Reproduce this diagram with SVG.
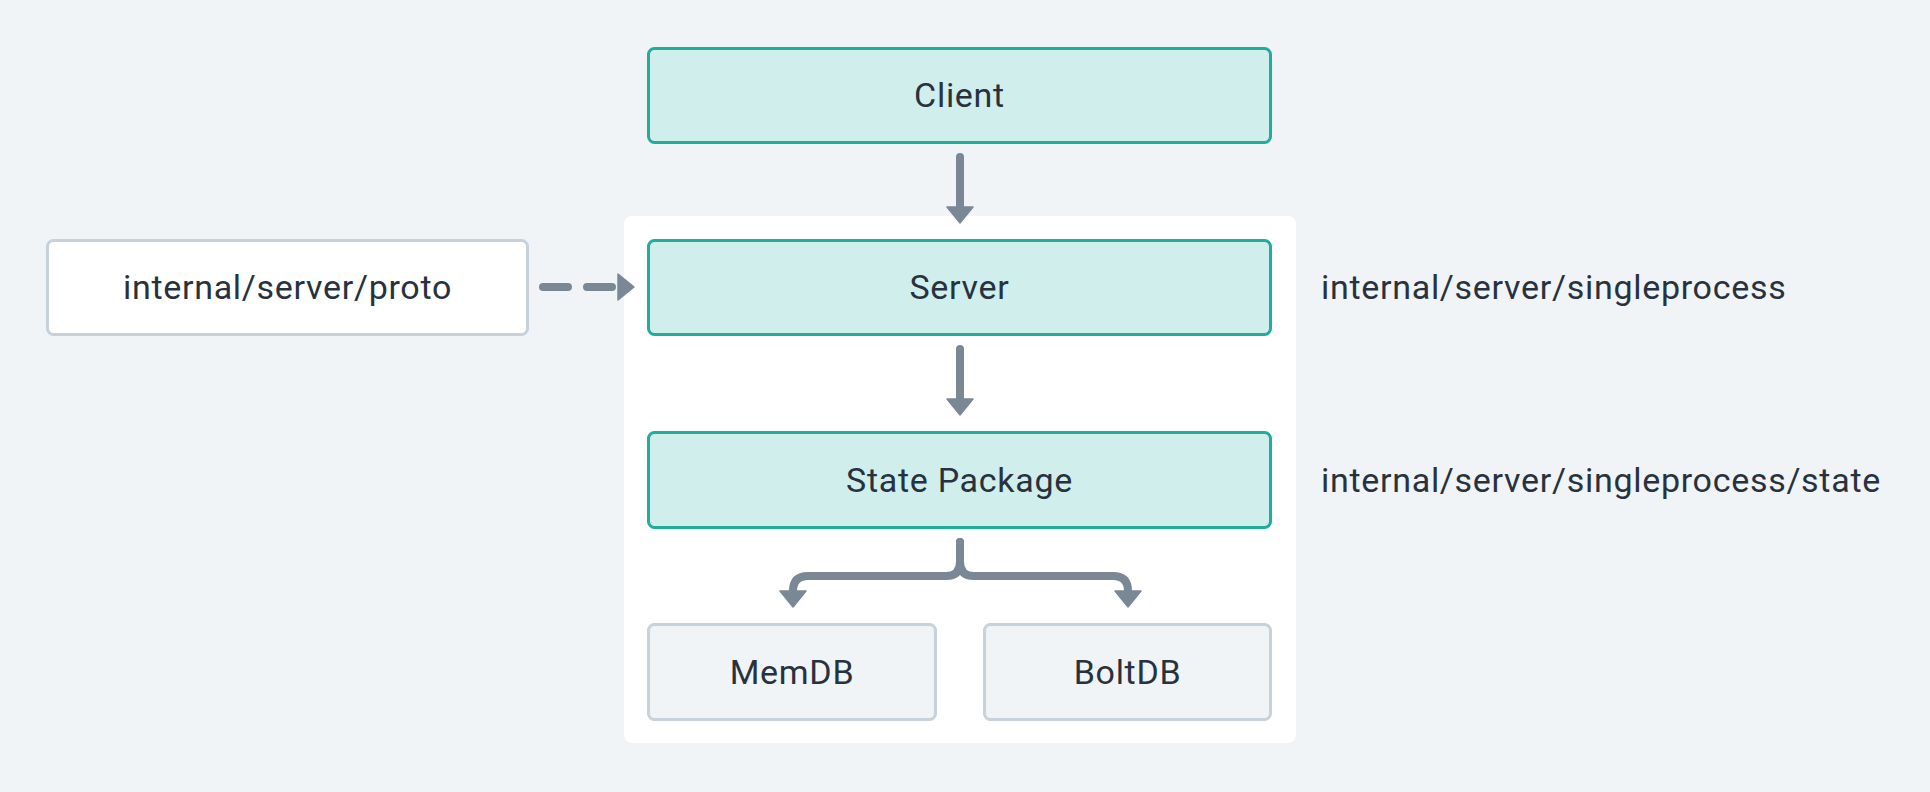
<svg xmlns="http://www.w3.org/2000/svg" width="1930" height="792" viewBox="0 0 1930 792">
<defs>
<style>
.bg{fill:#f0f4f7}
.container{fill:#ffffff}
.teal{fill:#d0eeec;stroke:#1fae9b;stroke-width:3}
.gray{fill:#f0f4f7;stroke:#c6d1da;stroke-width:3}
.plain{fill:#ffffff;stroke:#c6d1da;stroke-width:3}
.lbl{font-family:Roboto,"Liberation Sans",sans-serif;font-size:34px;letter-spacing:0.7px;fill:#27323e}
.mid{text-anchor:middle}
.conn{fill:none;stroke:#7a8896;stroke-width:8;stroke-linecap:round;stroke-linejoin:round}
</style>
<marker id="ah" viewBox="0 0 18 28" markerUnits="userSpaceOnUse" markerWidth="18" markerHeight="28" refX="1" refY="14" orient="auto">
<path d="M1,1 L17,14 L1,27 Z" fill="#7a8896" stroke="#7a8896" stroke-width="1.5" stroke-linejoin="round"/>
</marker>
</defs>
<rect class="bg" x="0" y="0" width="1930" height="792"/>
<g id="container">
<rect class="container" x="624" y="216" width="672" height="527" rx="8"/>
</g>
<g id="connectors">
<path class="conn" d="M960 157 V207" marker-end="url(#ah)"/>
<path class="conn" d="M960 349 V399" marker-end="url(#ah)"/>
<path class="conn" d="M543 287 H618" stroke-dasharray="25 19" marker-end="url(#ah)"/>
<path class="conn" d="M960 542 V562 Q960 576 946 576 H808 Q793 576 793 591" marker-end="url(#ah)"/>
<path class="conn" d="M960 542 V562 Q960 576 974 576 H1113 Q1128 576 1128 591" marker-end="url(#ah)"/>
</g>
<g id="client">
<rect class="teal" x="648.5" y="48.5" width="622" height="94" rx="6"/>
<text class="lbl mid" x="959.5" y="107">Client</text>
</g>
<g id="server">
<rect class="teal" x="648.5" y="240.5" width="622" height="94" rx="6"/>
<text class="lbl mid" x="959.5" y="299">Server</text>
</g>
<g id="state">
<rect class="teal" x="648.5" y="432.5" width="622" height="95" rx="6"/>
<text class="lbl mid" x="959.5" y="492">State Package</text>
</g>
<g id="memdb">
<rect class="gray" x="648.5" y="624.5" width="287" height="95" rx="6"/>
<text class="lbl mid" x="792" y="684">MemDB</text>
</g>
<g id="boltdb">
<rect class="gray" x="984.5" y="624.5" width="286" height="95" rx="6"/>
<text class="lbl mid" x="1127.5" y="684">BoltDB</text>
</g>
<g id="proto">
<rect class="plain" x="47.5" y="240.5" width="480" height="94" rx="6"/>
<text class="lbl mid" x="287.5" y="299">internal/server/proto</text>
</g>
<g id="label-singleprocess">
<text class="lbl" x="1321" y="299">internal/server/singleprocess</text>
</g>
<g id="label-state">
<text class="lbl" x="1321" y="492">internal/server/singleprocess/state</text>
</g>
</svg>
